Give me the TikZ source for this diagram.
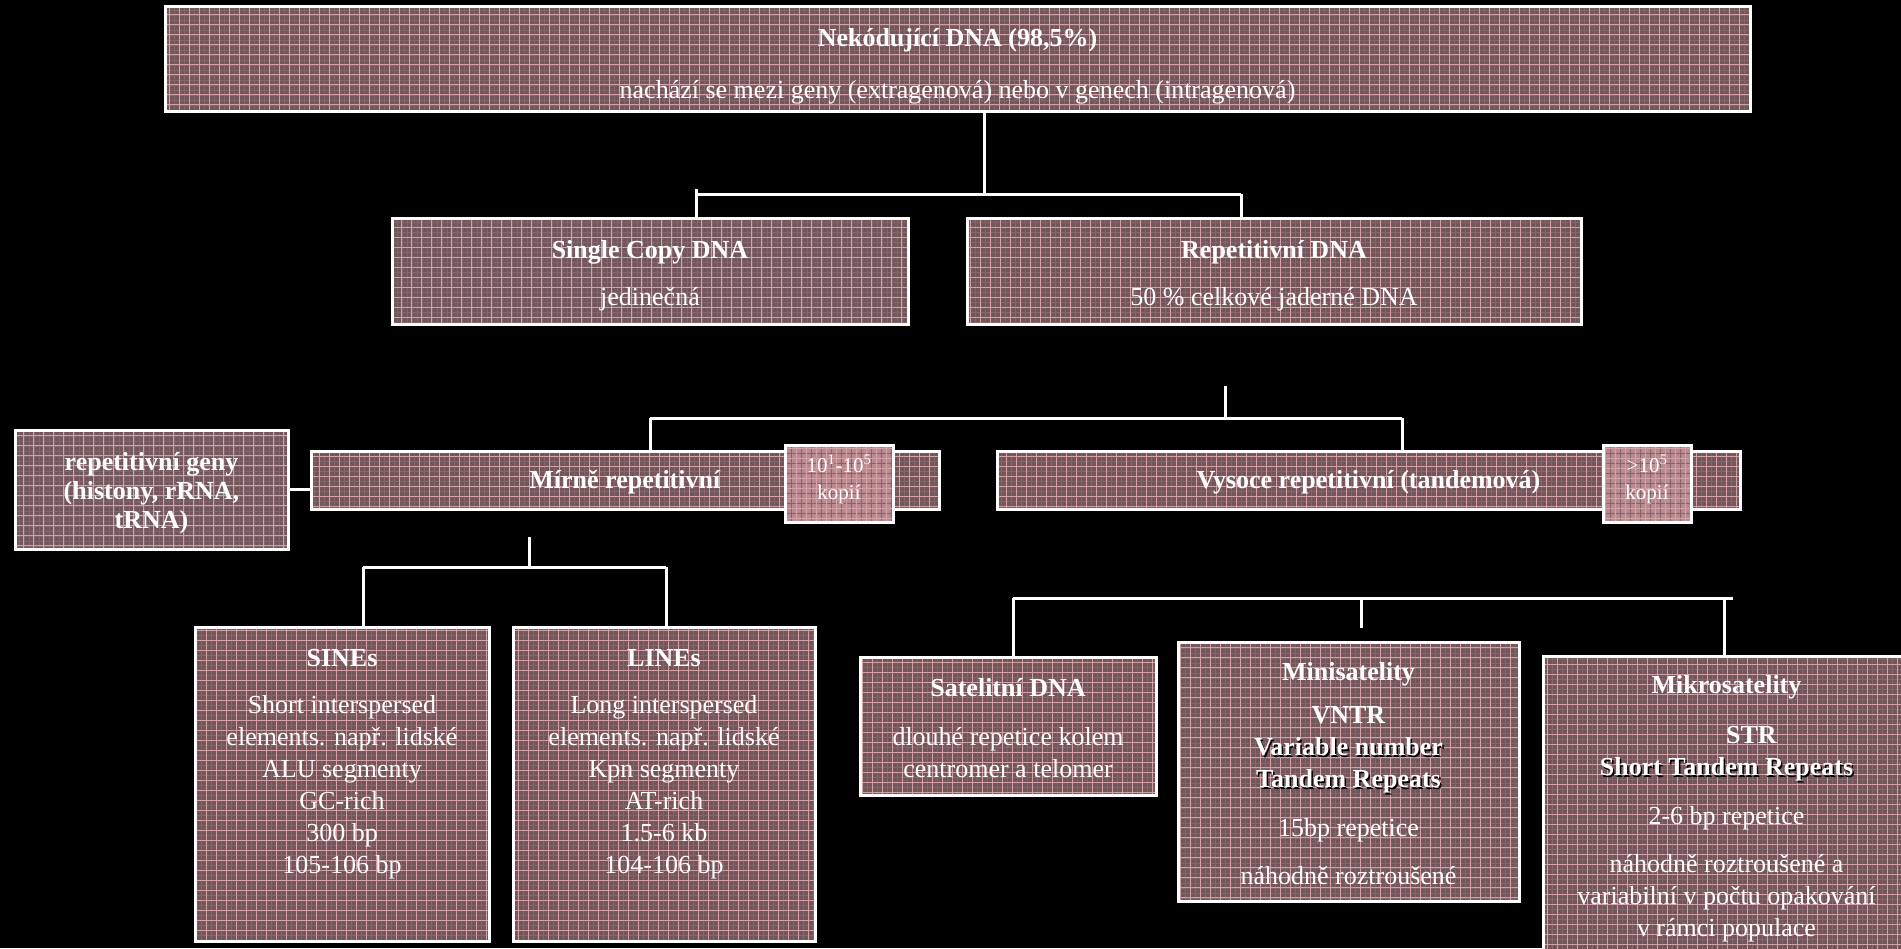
\documentclass[tikz,border=0pt]{standalone}
\usepackage{fontspec}
\setmainfont{Liberation Serif}
\definecolor{boxfill}{RGB}{114,86,90}
\definecolor{gridc}{RGB}{212,162,165}
\definecolor{gridf}{RGB}{132,102,106}
\definecolor{kopfill}{RGB}{185,138,144}
\newcommand\bt[2]{\raisebox{#1}[\height][\depth]{\begin{tabular}{@{}c@{}}#2\end{tabular}}}
\newcommand\shd[1]{\leavevmode\rlap{\hspace{1.5pt}\raisebox{-1.5pt}{\color{black}#1}}#1}
\tikzset{
  gridpic/.style={path picture={
      \draw[gridf, line width=0.4pt] (path picture bounding box.south west) grid[step=5pt] (path picture bounding box.north east);
      \draw[gridc, line width=0.6pt] (path picture bounding box.south west) grid[step=10pt] (path picture bounding box.north east);
  }},
  pattbox/.style={draw=white, line width=3pt, fill=boxfill, text=white, inner sep=0pt, outer sep=0pt,
    anchor=center, gridpic, font=\fontsize{26}{32}\selectfont},
  kopbox/.style={pattbox, fill=kopfill, font=\fontsize{21}{27}\selectfont},
  conn/.style={draw=white, line width=3pt}
}
\begin{document}
\begin{tikzpicture}[x=1pt,y=-1pt]
\useasboundingbox (0,0) rectangle (1901,948);
\fill[black] (0,0) rectangle (1901,948);
\clip (0,0) rectangle (1901,948);

% boxes
\node[pattbox, minimum width=1585pt, minimum height=105pt] (top) at (957.5,58.5)
  {\bt{-8pt}{\textbf{Nekódující DNA (98,5\%)}\\[20pt] nachází se mezi geny (extragenová) nebo v genech (intragenová)}};
\node[pattbox, minimum width=516pt, minimum height=106pt] (single) at (650,271)
  {\bt{-5pt}{\textbf{Single Copy DNA}\\[15pt] jedinečná}};
\node[pattbox, minimum width=614pt, minimum height=106pt] (rep) at (1274,271)
  {\bt{-5pt}{\textbf{Repetitivní DNA}\\[15pt] 50 \% celkové jaderné DNA}};
\node[pattbox, font=\fontsize{26}{29}\selectfont, minimum width=273pt, minimum height=119pt] (geny) at (151.5,489.5)
  {\bt{-4pt}{\textbf{repetitivní geny}\\ \textbf{(histony, rRNA,}\\ \textbf{tRNA)}}};
\node[pattbox, minimum width=628pt, minimum height=58pt] (mirne) at (625,480)
  {\bt{-2pt}{\textbf{Mírně repetitivní}}};
\node[pattbox, minimum width=743pt, minimum height=58pt] (vys) at (1368.5,480)
  {\bt{-2pt}{\textbf{Vysoce repetitivní (tandemová)}}};
\node[kopbox, minimum width=108pt, minimum height=77pt] (kop1) at (839,483.5)
  {\bt{3pt}{10\textsuperscript{1}-10\textsuperscript{5}\\ kopií}};
\node[kopbox, minimum width=88pt, minimum height=77pt] (kop2) at (1647,483.5)
  {\bt{3pt}{>10\textsuperscript{5}\\ kopií}};
\node[pattbox, minimum width=294pt, minimum height=314pt] (sines) at (342,784)
  {\bt{20pt}{\textbf{SINEs}\\[15pt] Short interspersed\\ elements. např. lidské\\ ALU segmenty\\ GC-rich\\ 300 bp\\ 105-106 bp}};
\node[pattbox, minimum width=302pt, minimum height=314pt] (lines) at (664,784)
  {\bt{20pt}{\textbf{LINEs}\\[15pt] Long interspersed\\ elements. např. lidské\\ Kpn segmenty\\ AT-rich\\ 1.5-6 kb\\ 104-106 bp}};
\node[pattbox, minimum width=296pt, minimum height=138pt] (sat) at (1008,726)
  {\bt{-5pt}{\textbf{Satelitní DNA}\\[17pt] dlouhé repetice kolem\\ centromer a telomer}};
\node[pattbox, minimum width=341pt, minimum height=259pt] (mini) at (1348.5,771.5)
  {\bt{-5pt}{\textbf{Minisatelity}\\[11pt] \textbf{VNTR}\\ \textbf{\shd{Variable number}}\\ \textbf{\shd{Tandem Repeats}}\\[17pt] 15bp repetice\\[16pt] náhodně roztroušené}};
\node[pattbox, minimum width=367pt, minimum height=324pt] (mikro) at (1726.5,818)
  {\bt{9pt}{\textbf{Mikrosatelity}\\[18pt] \hspace*{50pt}\textbf{STR}\\ \textbf{\shd{Short Tandem Repeats}}\\[17pt] 2-6 bp repetice\\[16pt] náhodně roztroušené a\\ variabilní v počtu opakování\\ v rámci populace}};

% connectors: top -> single / rep
\coordinate (j1) at (984,194);
\coordinate (j1l) at (696,194);
\coordinate (j1lt) at (696,189);
\coordinate (j1r) at (1241,194);
\draw[conn] (top.south -| j1) -- (j1);
\draw[conn] (j1l) -- (j1r);
\draw[conn] (j1lt) -- (single.north -| j1lt);
\draw[conn] (j1r) -- (rep.north -| j1r);

% rep -> mirne / vysoce
\coordinate (j2t) at (1225,386);
\coordinate (j2) at (1225,418);
\coordinate (j2l) at (650,418);
\coordinate (j2r) at (1402,418);
\draw[conn] (j2t) -- (j2);
\draw[conn] (j2l) -- (j2r);
\draw[conn] (j2l) -- (mirne.north -| j2l);
\draw[conn] (j2r) -- (vys.north -| j2r);

% geny -- mirne
\draw[conn] (geny.east) -- (geny.east -| mirne.west);

% mirne -> sines / lines
\coordinate (j3t) at (529,537);
\coordinate (j3) at (529,567);
\coordinate (j3l) at (363,567);
\coordinate (j3r) at (666,567);
\draw[conn] (j3t) -- (j3);
\draw[conn] (j3l) -- (j3r);
\draw[conn] (j3l) -- (sines.north -| j3l);
\draw[conn] (j3r) -- (lines.north -| j3r);

% satellite bus
\coordinate (j4l) at (1013,598);
\coordinate (j4r) at (1733,598);
\coordinate (j4m) at (1361,598);
\coordinate (j4mb) at (1361,628);
\coordinate (j4rv) at (1724,598);
\draw[conn] (j4l) -- (j4r);
\draw[conn] (j4l) -- (sat.north -| j4l);
\draw[conn] (j4m) -- (j4mb);
\draw[conn] (j4rv) -- (mikro.north -| j4rv);
\end{tikzpicture}
\end{document}
